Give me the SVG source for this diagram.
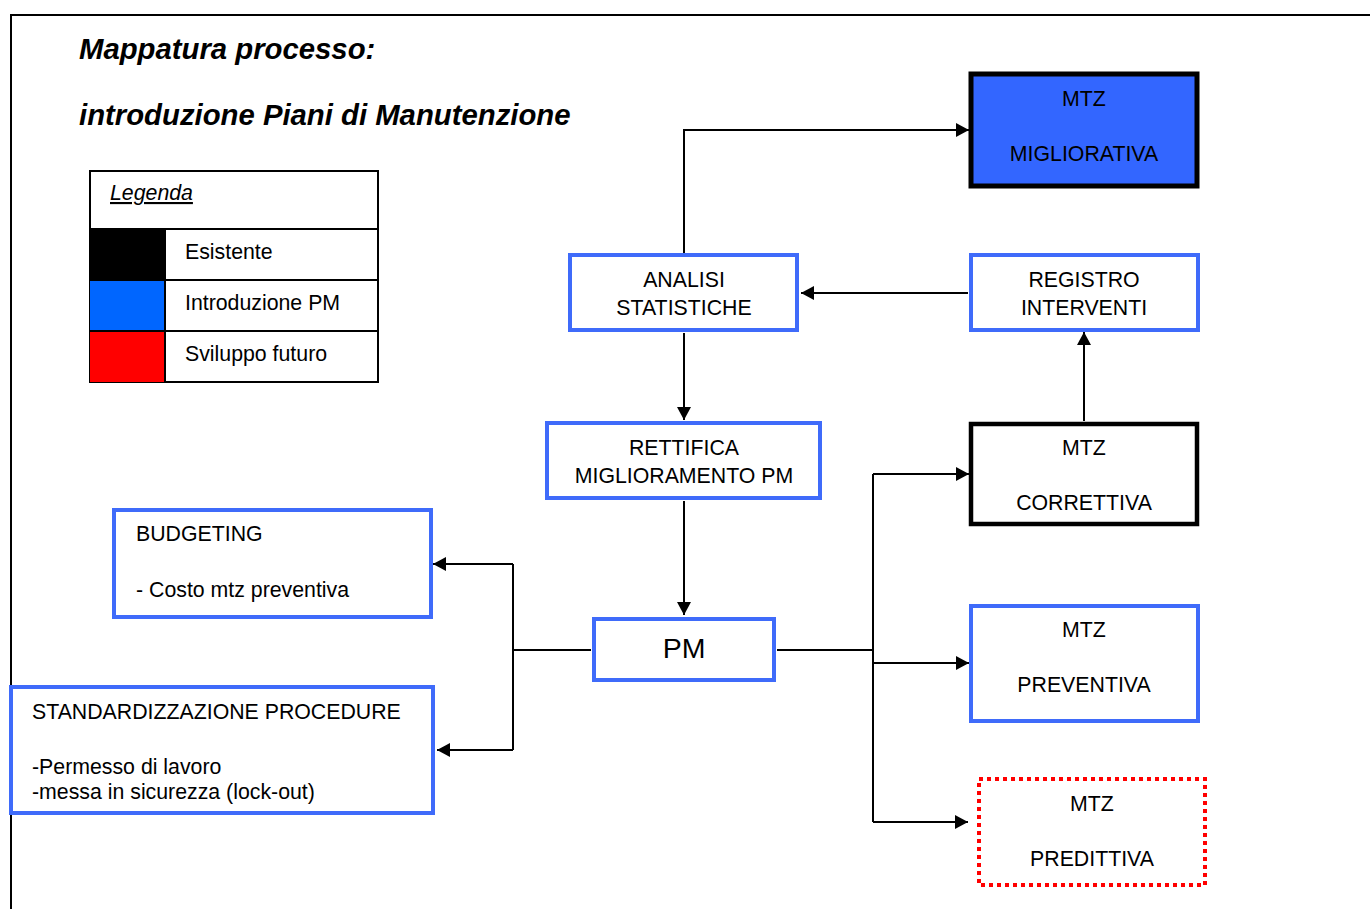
<svg xmlns="http://www.w3.org/2000/svg" width="1370" height="909" viewBox="0 0 1370 909">
  <style>
    text { font-family: "Liberation Sans", Arial, sans-serif; font-size: 21.3px; fill: #000; }
    .title { font-size: 29.3px; font-weight: bold; font-style: italic; }
    .big { font-size: 28.5px; }
    .c { text-anchor: middle; }
    .blue { fill: #fff; stroke: #3F6BFA; stroke-width: 4; }
    .black { fill: #fff; stroke: #000; stroke-width: 4.5; }
    .future { fill: #fff; stroke: #FF0000; stroke-width: 4; stroke-dasharray: 4 4; }
    .conn { fill: none; stroke: #000; stroke-width: 2; }
    .legend { fill: #fff; stroke: #000; stroke-width: 2; }
  </style>
  <defs>
    <marker id="arrow" markerUnits="userSpaceOnUse" markerWidth="14" markerHeight="14" refX="13" refY="7" orient="auto">
      <path d="M0,0 L13,7 L0,14 z" fill="#000"/>
    </marker>
  </defs>

  <rect width="1370" height="909" fill="#fff"/>
  <!-- page frame -->
  <path d="M11,909 V15 H1370" fill="none" stroke="#000" stroke-width="2"/>

  <!-- heading -->
  <g id="title">
    <text class="title" x="79" y="59">Mappatura processo:</text>
    <text class="title" x="79" y="125">introduzione Piani di Manutenzione</text>
  </g>

  <!-- legend table -->
  <g id="legend">
    <rect class="legend" x="90" y="171" width="288" height="211"/>
    <rect x="90" y="229" width="75" height="51" fill="#000"/>
    <rect x="90" y="280" width="75" height="51" fill="#0066FF"/>
    <rect x="90" y="331" width="75" height="51" fill="#FF0000"/>
    <path d="M90,229 H378 M90,280 H378 M90,331 H378 M165,229 V382" stroke="#000" stroke-width="2"/>
    <text x="110" y="200" font-style="italic" text-decoration="underline">Legenda</text>
    <text x="185" y="259">Esistente</text>
    <text x="185" y="310">Introduzione PM</text>
    <text x="185" y="361">Sviluppo futuro</text>
  </g>

  <!-- connectors -->
  <g id="connectors">
    <path class="conn" d="M684,254 V130 H969" marker-end="url(#arrow)"/>
    <path class="conn" d="M968,293 H801" marker-end="url(#arrow)"/>
    <path class="conn" d="M684,333 V420" marker-end="url(#arrow)"/>
    <path class="conn" d="M684,501 V615" marker-end="url(#arrow)"/>
    <path class="conn" d="M1084,421 V332" marker-end="url(#arrow)"/>
    <path class="conn" d="M777,650 H873 M873,474 V822"/>
    <path class="conn" d="M873,474 H969" marker-end="url(#arrow)"/>
    <path class="conn" d="M873,663 H969" marker-end="url(#arrow)"/>
    <path class="conn" d="M873,822 H968" marker-end="url(#arrow)"/>
    <path class="conn" d="M591,650 H513 M513,564 V750"/>
    <path class="conn" d="M513,564 H433" marker-end="url(#arrow)"/>
    <path class="conn" d="M513,750 H437" marker-end="url(#arrow)"/>
  </g>

  <g id="mtz-migliorativa">
    <rect x="971" y="74" width="226" height="112" fill="#3366FF" stroke="#000" stroke-width="5"/>
    <text class="c" x="1084" y="106">MTZ</text>
    <text class="c" x="1084" y="161">MIGLIORATIVA</text>
  </g>

  <g id="analisi-statistiche">
    <rect class="blue" x="570" y="255" width="227" height="75"/>
    <text class="c" x="684" y="287">ANALISI</text>
    <text class="c" x="684" y="315">STATISTICHE</text>
  </g>

  <g id="registro-interventi">
    <rect class="blue" x="971" y="255" width="227" height="75"/>
    <text class="c" x="1084" y="287">REGISTRO</text>
    <text class="c" x="1084" y="315">INTERVENTI</text>
  </g>

  <g id="rettifica">
    <rect class="blue" x="547" y="423" width="273" height="75"/>
    <text class="c" x="684" y="455">RETTIFICA</text>
    <text class="c" x="684" y="483">MIGLIORAMENTO PM</text>
  </g>

  <g id="mtz-correttiva">
    <rect class="black" x="971" y="424" width="226" height="100"/>
    <text class="c" x="1084" y="455">MTZ</text>
    <text class="c" x="1084" y="510">CORRETTIVA</text>
  </g>

  <g id="pm">
    <rect class="blue" x="594" y="619" width="180" height="61"/>
    <text class="c big" x="684" y="658">PM</text>
  </g>

  <g id="budgeting">
    <rect class="blue" x="114" y="510" width="317" height="107"/>
    <text x="136" y="541">BUDGETING</text>
    <text x="136" y="597">- Costo mtz preventiva</text>
  </g>

  <g id="standardizzazione">
    <rect class="blue" x="11" y="687" width="422" height="126"/>
    <text x="32" y="719">STANDARDIZZAZIONE PROCEDURE</text>
    <text x="32" y="774">-Permesso di lavoro</text>
    <text x="32" y="799">-messa in sicurezza (lock-out)</text>
  </g>

  <g id="mtz-preventiva">
    <rect class="blue" x="971" y="606" width="227" height="115"/>
    <text class="c" x="1084" y="637">MTZ</text>
    <text class="c" x="1084" y="692">PREVENTIVA</text>
  </g>

  <g id="mtz-predittiva">
    <rect class="future" x="979" y="779" width="226" height="106"/>
    <text class="c" x="1092" y="811">MTZ</text>
    <text class="c" x="1092" y="866">PREDITTIVA</text>
  </g>
</svg>
